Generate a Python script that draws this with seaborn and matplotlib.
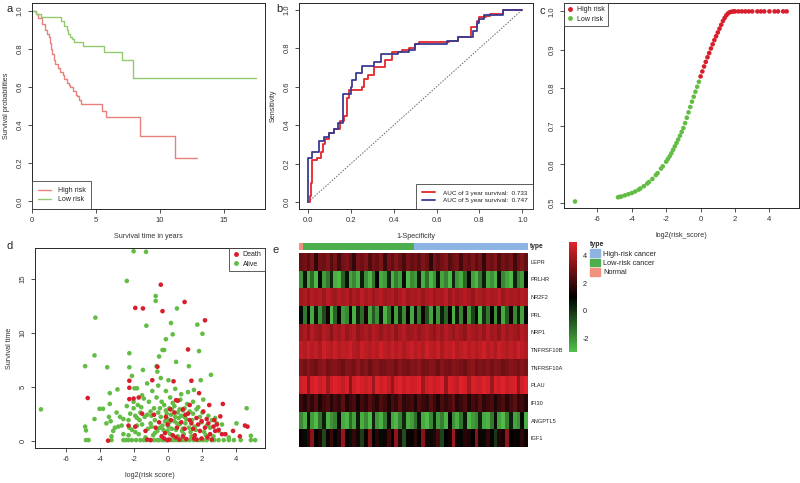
import matplotlib
matplotlib.use("Agg")
from matplotlib import pyplot as plt
from matplotlib.colors import LinearSegmentedColormap, ListedColormap
from matplotlib.patches import Patch
import numpy as np
import pandas as pd
import seaborn as sns

sns.set_style("ticks")
plt.rcParams['font.family'] = ['Liberation Sans', 'DejaVu Sans']
plt.rcParams['font.size'] = 5
plt.rcParams['axes.unicode_minus'] = False
plt.rcParams['axes.linewidth'] = 0.7
plt.rcParams['xtick.major.width'] = 0.6
plt.rcParams['ytick.major.width'] = 0.6
plt.rcParams['xtick.major.size'] = 3
plt.rcParams['ytick.major.size'] = 3

# ---- a: Kaplan-Meier ----
km_high_t = [0, 0.3, 0.5, 0.8, 1.0, 1.2, 1.3, 1.4, 1.5, 1.6, 1.7, 1.8, 2.0, 2.2, 2.4, 2.5, 2.7, 2.9, 3.0, 3.2, 3.4, 3.5, 3.7, 3.8, 5.5, 5.8, 8.4, 11.2, 12.9]
km_high_s = [1.0, 0.98, 0.96, 0.93, 0.90, 0.88, 0.86, 0.83, 0.80, 0.77, 0.74, 0.72, 0.70, 0.68, 0.66, 0.64, 0.62, 0.61, 0.60, 0.58, 0.56, 0.55, 0.53, 0.51, 0.475, 0.44, 0.343, 0.228, 0.228]
km_low_t = [0, 0.3, 0.7, 2.3, 2.5, 2.7, 2.8, 3.0, 3.1, 3.3, 4.0, 5.6, 7.0, 7.9, 17.5]
km_low_s = [1.0, 0.98, 0.965, 0.944, 0.92, 0.90, 0.88, 0.86, 0.85, 0.835, 0.817, 0.783, 0.739, 0.647, 0.647]

# ---- b: time dependent ROC ----
roc3_fpr = [0, 0.01, 0.015, 0.02, 0.04, 0.06, 0.07, 0.08, 0.10, 0.12, 0.15, 0.17, 0.18, 0.19, 0.25, 0.26, 0.28, 0.31, 0.36, 0.39, 0.44, 0.47, 0.50, 0.52, 0.66, 0.70, 0.76, 0.79, 0.80, 0.83, 0.85, 0.91, 1.0]
roc3_tpr = [0, 0.03, 0.10, 0.22, 0.23, 0.26, 0.30, 0.33, 0.36, 0.38, 0.42, 0.45, 0.54, 0.585, 0.60, 0.64, 0.66, 0.70, 0.74, 0.78, 0.79, 0.80, 0.82, 0.83, 0.84, 0.86, 0.91, 0.94, 0.96, 0.97, 0.98, 1.0, 1.0]
roc5_fpr = [0, 0, 0.02, 0.05, 0.075, 0.10, 0.12, 0.14, 0.165, 0.20, 0.205, 0.225, 0.25, 0.31, 0.34, 0.42, 0.47, 0.50, 0.65, 0.68, 0.70, 0.77, 0.79, 0.80, 0.82, 0.91, 1.0]
roc5_tpr = [0, 0.23, 0.26, 0.32, 0.34, 0.36, 0.38, 0.41, 0.56, 0.60, 0.635, 0.67, 0.71, 0.73, 0.77, 0.78, 0.79, 0.82, 0.835, 0.84, 0.86, 0.89, 0.93, 0.95, 0.975, 1.0, 1.0]
auc3 = 0.733
auc5 = 0.747

# ---- c: risk score vs survival probability ----
c_low_x = [-7.3, -4.8, -4.7, -4.6, -4.4, -4.2, -4.0, -3.8, -3.6, -3.5, -3.3, -3.1, -3.0, -2.8, -2.6, -2.5, -2.3, -2.2, -2.0, -1.9, -1.8, -1.7, -1.6, -1.5, -1.4, -1.3, -1.2, -1.1, -1.0, -0.9, -0.8, -0.7, -0.6, -0.5, -0.4, -0.3, -0.2, -0.1]
c_low_y = [0.503, 0.514, 0.515, 0.516, 0.519, 0.522, 0.525, 0.529, 0.534, 0.537, 0.543, 0.550, 0.554, 0.562, 0.572, 0.577, 0.589, 0.595, 0.607, 0.614, 0.621, 0.629, 0.638, 0.647, 0.656, 0.665, 0.675, 0.685, 0.695, 0.708, 0.722, 0.736, 0.750, 0.764, 0.777, 0.790, 0.803, 0.816]
c_high_x = [0.0, 0.1, 0.2, 0.3, 0.4, 0.5, 0.6, 0.7, 0.8, 0.9, 1.0, 1.1, 1.2, 1.3, 1.4, 1.5, 1.6, 1.7, 1.8, 1.9, 2.0, 2.2, 2.4, 2.6, 2.8, 3.0, 3.3, 3.5, 3.7, 4.0, 4.3, 4.5, 4.8, 5.0]
c_high_y = [0.830, 0.843, 0.856, 0.868, 0.880, 0.891, 0.903, 0.914, 0.925, 0.935, 0.945, 0.955, 0.965, 0.975, 0.983, 0.990, 0.995, 0.998, 0.999, 1.0, 1.0, 1.0, 1.0, 1.0, 1.0, 1.0, 1.0, 1.0, 1.0, 1.0, 1.0, 1.0, 1.0, 1.0]

# ---- d: risk score vs survival time ----
death_pts = [(-4.7, 3.95), (-3.5, 0.0), (-2.25, 5.55), (-2.25, 4.9), (-2.25, 3.85), (-2.0, 3.9), (-1.9, 12.3), (-1.45, 12.25),
             (-1.9, 1.3), (-1.5, 2.5), (-1.2, 0.1), (-0.9, 5.6), (-0.6, 6.85), (-0.7, 1.2), (-0.4, 14.45), (-0.3, 12.0),
             (-0.35, 0.4), (-0.2, 0.2), (-0.1, 2.2), (0.0, 1.5), (0.1, 0.1), (0.2, 1.9), (0.35, 5.5), (0.3, 0.5), (0.5, 3.75),
             (0.6, 3.7), (0.7, 0.1), (0.8, 1.7), (0.9, 2.9), (1.0, 12.85), (1.0, 1.1), (1.2, 8.45), (1.2, 2.5), (1.3, 3.3),
             (1.4, 5.55), (1.4, 1.6), (1.5, 1.1), (1.6, 0.5), (1.7, 2.1), (1.8, 1.5), (1.85, 4.4), (1.9, 0.9), (2.0, 1.8),
             (2.1, 2.7), (2.2, 11.15), (2.2, 1.2), (2.3, 2.0), (2.45, 3.3), (2.5, 0.6), (2.7, 1.3), (2.8, 0.9), (2.9, 1.5),
             (3.1, 2.25), (3.25, 3.4), (3.2, 0.6), (3.4, 0.6), (3.85, 0.9), (4.25, 0.4), (4.55, 1.4), (4.7, 1.3), (0.5, 0.3),
             (-0.5, 1.7), (1.1, 0.15), (2.6, 0.1), (-1.0, 0.05), (0.0, 0.05), (-2.3, 1.4), (-1.7, 4.0), (0.4, 2.6), (1.7, 0.1),
             (-1.3, 0.9), (-0.8, 2.4), (0.15, 2.9), (0.55, 1.2), (1.05, 2.4), (1.55, 0.2), (2.35, 0.3), (2.0, 0.2),
             (2.75, 1.9), (3.0, 1.0), (-0.15, 0.7), (0.9, 0.4), (1.3, 1.9), (2.4, 1.6)]
alive_base_x = [-4.8, -4.65, -3.3, -2.6, -2.45, -2.3, -2.1, -1.85, -1.6, -1.4, -1.25, -1.0, -0.8, -0.6, -0.5, -0.3, -0.15,
                0.0, 0.2, 0.35, 0.5, 0.65, 0.8, 0.95, 1.1, 1.3, 1.55, 1.75, 1.9, 2.1, 2.3, 2.6, 2.75, 3.0, 3.3, 3.6, 3.9,
                4.3, 4.9, 5.15]
alive_pts = [(-7.45, 2.9), (-4.85, 6.9), (-4.3, 7.9), (-4.25, 11.4), (-4.85, 1.3), (-4.8, 0.95), (-4.3, 2.0), (-4.0, 2.95),
             (-3.8, 2.95), (-3.55, 6.8), (-3.4, 4.4), (-3.4, 3.4), (-3.35, 1.8), (-3.45, 2.2), (-3.3, 0.4), (-3.1, 1.2),
             (-2.95, 4.75), (-2.9, 1.3), (-2.4, 14.8), (-2.25, 8.1), (-2.25, 6.8), (-2.3, 1.9), (-2.25, 1.2), (-2.3, 0.5),
             (-2.0, 17.55), (-2.0, 3.0), (-2.0, 3.6), (-1.95, 4.85), (-1.8, 4.85), (-1.9, 2.3), (-1.8, 1.4), (-1.7, 0.6),
             (-1.6, 2.6), (-1.5, 4.2), (-1.5, 1.5), (-1.45, 6.55), (-1.4, 3.9), (-1.27, 17.5), (-1.25, 10.65), (-1.2, 2.4),
             (-1.1, 3.6), (-1.0, 1.6), (-1.0, 2.7), (-0.9, 4.6), (-0.85, 0.5), (-0.8, 3.0), (-0.75, 1.9), (-0.7, 13.4),
             (-0.7, 12.95), (-0.65, 6.9), (-0.6, 6.4), (-0.55, 5.1), (-0.5, 7.8), (-0.4, 5.8), (-0.4, 2.2), (-0.3, 8.4),
             (-0.3, 1.4), (-0.2, 8.4), (-0.2, 3.3), (-0.1, 9.4), (-0.1, 4.6), (-0.1, 2.8), (0.0, 2.0), (0.0, 0.9),
             (0.05, 5.6), (0.1, 3.0), (0.1, 1.7), (0.2, 10.9), (0.2, 2.4), (0.25, 1.1), (0.3, 9.85), (0.3, 3.5), (0.4, 1.8),
             (0.45, 2.2), (0.5, 7.3), (0.5, 1.0), (0.55, 12.25), (0.6, 2.6), (0.7, 1.5), (0.75, 3.8), (0.8, 2.3), (0.9, 1.1),
             (0.95, 0.6), (1.0, 3.0), (1.1, 2.0), (1.2, 4.5), (1.25, 1.2), (1.3, 2.7), (1.45, 1.9), (1.55, 4.7), (1.6, 1.3),
             (1.7, 2.9), (1.75, 10.75), (1.85, 8.3), (1.9, 2.2), (1.95, 5.6), (2.05, 9.9), (2.1, 3.8), (2.15, 0.8), (2.3, 1.4),
             (2.4, 2.3), (2.55, 6.1), (2.6, 1.9), (2.7, 0.4), (2.9, 1.6), (3.0, 0.9), (3.2, 1.5), (3.6, 0.3), (4.05, 1.6),
             (4.65, 3.0), (4.9, 0.45), (-2.6, 0.6), (-2.7, 1.4), (-1.3, 0.3), (-0.6, 0.9), (0.6, 0.4), (1.4, 0.4), (-3.0, 2.6),
             (-2.2, 2.5), (-1.55, 3.1), (-0.25, 1.0), (0.35, 0.4), (0.9, 2.8), (1.5, 3.6), (2.0, 1.7), (-0.95, 1.3),
             (-1.8, 2.1), (0.15, 4.0), (-0.45, 3.0), (0.65, 2.1), (1.05, 1.6), (-2.6, 2.0),
             (-2.4, 3.2), (-2.1, 1.0), (-1.9, 0.8), (-1.65, 1.9), (-1.35, 2.2), (-1.15, 1.1), (-0.95, 2.3), (-0.75, 0.7),
             (-0.55, 2.6), (-0.45, 1.2), (-0.35, 3.6), (-0.15, 1.8), (-0.05, 2.5), (0.05, 1.3), (0.15, 0.6), (0.25, 2.9),
             (0.4, 3.2), (0.55, 1.6), (0.7, 2.9), (0.85, 0.9), (1.0, 2.2), (1.15, 3.4), (1.35, 0.8), (1.5, 2.5), (1.65, 1.0),
             (1.8, 3.1), (2.05, 2.6), (2.25, 0.5), (2.5, 1.2), (2.8, 2.1), (-3.2, 0.9), (-2.8, 2.2), (-3.6, 1.6), (-1.75, 3.3),
             (-0.65, 4.0), (0.8, 4.3), (-1.2, 5.3), (-2.1, 6.0), (0.45, 4.8), (1.25, 6.9)]

# ---- e: expression heatmap ----
genes = ["LEPR", "PRLHR", "NR2F2", "PRL", "NRP1", "TNFRSF10B", "TNFRSF10A", "PLAU", "IFI30", "ANGPTL5", "IGF1"]
n_normal, n_low, n_high = 1, 29, 30
expr_LEPR = [2.8, 3.0, 2.6, 3.2, 1.8, 3.0, 2.9, 3.3, 2.5, 3.1, 2.2, 3.0, 3.2, 2.7, 1.9, 3.1, 2.9, 3.3, 2.4, 3.0,
             2.8, 3.2, 2.0, 3.0, 2.7, 3.3, 2.9, 2.3, 3.1, 2.8, 3.0, 2.6, 3.2, 2.9, 1.8, 3.1, 2.7, 3.0, 3.3, 2.5,
             2.9, 3.1, 2.2, 3.0, 2.8, 3.2, 2.6, 3.0, 1.9, 3.1, 2.9, 3.3, 2.4, 3.0, 2.8, 3.1, 2.1, 2.9, 3.2, 2.7]
expr_PRLHR = [-2.0, 0.5, -2.5, -1.2, -2.8, 0.8, -2.2, -1.5, 0.2, -2.6, -2.9, -1.0, 0.6, -2.4, -1.8, -2.7, 0.4, -2.0, -2.8, -1.4,
              0.9, -2.5, -2.1, 0.3, -2.7, -1.6, -2.3, 0.7, -2.9, -1.9, -2.2, 0.5, -2.6, -1.3, -2.8, -2.0, 0.6, -2.4, -1.7, -2.9,
              0.2, -2.1, -2.6, -1.1, 0.8, -2.3, -2.8, -1.5, 0.4, -2.5, -2.0, -2.7, 0.7, -1.8, -2.4, -2.9, 0.3, -1.6, -2.2, 0.9]
expr_NR2F2 = [3.8, 4.0, 3.6, 4.2, 3.9, 4.1, 3.7, 4.3, 4.0, 3.8, 4.1, 3.9, 4.2, 3.6, 4.0, 3.8, 4.3, 3.9, 4.1, 3.7,
              4.0, 4.2, 3.8, 3.9, 4.1, 3.6, 4.0, 4.3, 3.8, 4.0, 3.9, 4.1, 3.7, 4.0, 4.2, 3.8, 4.0, 3.9, 4.3, 3.7,
              4.1, 3.8, 4.0, 4.2, 3.9, 3.6, 4.1, 4.0, 3.8, 4.2, 3.9, 4.0, 4.3, 3.7, 4.1, 3.9, 4.0, 3.8, 4.2, 4.0]
expr_PRL = [0.8, -1.5, 1.2, -2.5, 0.5, -2.0, -0.5, 1.3, -2.8, -1.0, 0.9, -2.2, -1.8, 1.0, -2.6, 0.3, -1.2, 1.4, -2.4, -0.8,
            -2.0, 0.6, -2.7, -1.4, 1.1, -2.3, 0.2, -1.9, 1.2, -2.5, 0.7, -1.6, 1.3, -0.6, -2.4, 0.9, -2.1, 0.4, -1.1, 1.0,
            -2.6, 0.5, -1.7, 1.2, -2.2, -0.4, 0.8, -2.8, 0.1, -1.5, 1.1, -2.0, 0.6, -2.5, -0.9, 1.3, -1.8, 0.3, -2.3, 0.8]
expr_NRP1 = [3.7, 4.0, 3.5, 4.2, 3.8, 3.6, 4.1, 3.9, 3.4, 4.0, 3.8, 4.2, 3.6, 3.9, 4.1, 3.5, 3.8, 4.0, 3.7, 4.2,
             3.9, 3.6, 4.0, 3.8, 4.1, 3.5, 3.9, 4.2, 3.7, 3.8, 4.0, 3.6, 3.9, 4.1, 3.8, 3.5, 4.0, 3.7, 4.2, 3.9,
             3.6, 4.0, 3.8, 3.5, 4.1, 3.9, 3.7, 4.0, 3.6, 4.2, 3.8, 3.9, 3.5, 4.1, 3.7, 4.0, 3.8, 3.6, 4.2, 3.9]
expr_TNFRSF10B = [4.3, 4.1, 4.5, 4.2, 4.4, 4.0, 4.6, 4.3, 4.2, 4.5, 4.1, 4.4, 4.3, 4.6, 4.2, 4.0, 4.5, 4.3, 4.1, 4.4,
                  4.2, 4.6, 4.3, 4.1, 4.5, 4.2, 4.4, 4.0, 4.3, 4.5, 4.2, 4.4, 4.1, 4.6, 4.3, 4.2, 4.5, 4.0, 4.4, 4.3,
                  4.6, 4.1, 4.3, 4.5, 4.2, 4.4, 4.1, 4.3, 4.6, 4.2, 4.4, 4.0, 4.5, 4.3, 4.1, 4.4, 4.2, 4.6, 4.3, 4.1]
expr_TNFRSF10A = [3.2, 3.0, 3.4, 3.1, 2.9, 3.3, 3.5, 3.0, 3.2, 3.4, 3.1, 2.9, 3.3, 3.2, 3.0, 3.5, 3.1, 3.3, 2.9, 3.2,
                  3.4, 3.0, 3.1, 3.3, 3.2, 2.9, 3.4, 3.1, 3.0, 3.3, 3.2, 3.5, 3.0, 3.1, 3.4, 3.2, 2.9, 3.3, 3.1, 3.0,
                  3.4, 3.2, 3.1, 2.9, 3.3, 3.5, 3.0, 3.2, 3.1, 3.4, 3.0, 3.3, 3.2, 2.9, 3.1, 3.4, 3.2, 3.0, 3.3, 3.1]
expr_PLAU = [4.6, 4.8, 3.6, 4.7, 4.9, 4.5, 4.8, 3.8, 4.6, 4.9, 4.7, 4.4, 4.8, 3.5, 4.6, 4.9, 4.7, 4.5, 4.8, 3.7,
             4.9, 4.6, 4.8, 4.4, 3.6, 4.7, 4.9, 4.5, 4.8, 4.6, 4.7, 4.9, 3.8, 4.6, 4.8, 4.5, 4.7, 4.9, 3.6, 4.8,
             4.6, 4.4, 4.9, 4.7, 3.9, 4.8, 4.6, 4.5, 4.9, 4.7, 3.7, 4.8, 4.6, 4.9, 4.5, 4.7, 4.8, 3.6, 4.6, 4.9]
expr_IFI30 = [2.0, 1.6, 2.3, 1.8, 2.5, 1.5, 2.1, 2.4, 1.7, 2.2, 1.9, 2.6, 1.6, 2.0, 2.3, 1.4, 2.2, 1.8, 2.5, 2.0,
              1.7, 2.4, 2.1, 1.5, 2.3, 1.9, 2.6, 1.8, 2.0, 2.2, 1.6, 2.4, 2.0, 1.8, 2.5, 2.1, 1.5, 2.3, 1.9, 2.2,
              2.6, 1.7, 2.0, 2.4, 1.6, 2.2, 1.9, 2.5, 1.8, 2.1, 2.3, 1.5, 2.0, 2.4, 1.7, 2.2, 2.6, 1.9, 2.1, 1.6]
expr_ANGPTL5 = [-1.8, -2.6, 0.6, -2.2, -2.9, -1.4, 0.4, -2.7, -2.0, -1.6, 0.8, -2.5, -2.8, -1.2, -2.3, 0.5, -2.6, -1.9, -2.9, 0.3,
                -2.1, -2.7, -1.5, 0.7, -2.4, -2.8, -1.7, 0.2, -2.6, -2.2, -1.3, 0.6, -2.5, -2.9, -1.8, 0.4, -2.3, -1.6, -2.7, 0.9,
                -2.0, -2.6, -1.4, 0.5, -2.8, -2.2, -1.9, 0.3, -2.5, -2.7, -1.5, 0.7, -2.3, -2.9, -1.7, 0.4, -2.4, -2.0, 0.8, -2.6]
expr_IGF1 = [1.2, 0.8, 1.8, 3.4, 1.0, 1.5, -0.5, 1.3, 2.0, 0.9, 1.6, 3.6, 1.1, 0.7, 1.9, 1.4, -0.3, 1.2, 3.2, 1.0,
             1.7, 0.8, 1.3, 2.1, 1.0, 3.5, 1.5, -0.6, 1.2, 0.9, 1.8, 1.1, 3.3, 1.4, 0.8, 1.6, 2.2, -0.4, 1.0, 1.3,
             3.7, 1.2, 0.9, 1.7, 1.5, 1.0, 3.4, 1.3, 0.8, 1.9, 1.1, -0.2, 1.6, 1.4, 3.5, 1.0, 1.2, 0.9, 1.8, 1.3]
type_names = ["High-risk cancer", "Low-risk cancer", "Normal"]
type_colors = ["#8db4e2", "#4cae4c", "#f2917f"]

RED = "#d81e2c"
GREEN = "#63bd45"
TXT = "#333333"

fig = plt.figure(figsize=(8, 4.83), dpi=100)


def r_axes(ax):
    for lab in ax.get_yticklabels():
        lab.set_rotation(90)
        lab.set_va("center")
    ax.tick_params(labelsize=5.5, pad=3, colors=TXT, labelcolor=TXT)
    ax.xaxis.label.set_color(TXT)
    ax.yaxis.label.set_color(TXT)


def r_legend(ax, handles, labels, loc, **kw):
    opts = dict(frameon=True, fancybox=False, borderaxespad=0, fontsize=5, handlelength=1.9,
                borderpad=0.8, labelspacing=0.35, handletextpad=1.0)
    opts.update(kw)
    leg = ax.legend(handles, labels, loc=loc, **opts)
    leg.get_frame().set_edgecolor(TXT)
    leg.get_frame().set_linewidth(0.7)
    for t in leg.get_texts():
        t.set_color("#222222")
    return leg


# ---------- a ----------
ax_a = fig.add_axes([0.04, 0.5673, 0.29125, 0.4265])
km = pd.concat([
    pd.DataFrame({"time": km_high_t, "surv": km_high_s, "group": "High risk"}),
    pd.DataFrame({"time": km_low_t, "surv": km_low_s, "group": "Low risk"}),
])
sns.lineplot(data=km, x="time", y="surv", hue="group", palette=["#e8807c", "#93c96f"],
             drawstyle="steps-post", estimator=None, sort=False, linewidth=1.0, legend=False, ax=ax_a)
ax_a.set_xlim(0, 18.2)
ax_a.set_ylim(-0.04, 1.04)
ax_a.set_xticks([0, 5, 10, 15])
ax_a.set_yticks([0, 0.2, 0.4, 0.6, 0.8, 1.0])
ax_a.set_yticklabels(["0.0", "0.2", "0.4", "0.6", "0.8", "1.0"])
ax_a.set_xlabel("Survival time in years", fontsize=5.2, labelpad=6)
ax_a.set_ylabel("Survival probabilities", fontsize=5.2, labelpad=5)
r_axes(ax_a)
r_legend(ax_a, [plt.Line2D([], [], color="#e8807c", lw=1.0), plt.Line2D([], [], color="#93c96f", lw=1.0)],
         ["High risk", "Low risk"], "lower left")

# ---------- b ----------
ax_b = fig.add_axes([0.37375, 0.5673, 0.2925, 0.4265])
roc = pd.concat([
    pd.DataFrame({"fpr": roc3_fpr, "tpr": roc3_tpr, "curve": "3y"}),
    pd.DataFrame({"fpr": roc5_fpr, "tpr": roc5_tpr, "curve": "5y"}),
])
ax_b.plot([0, 1], [0, 1], ls=(0, (1.5, 1.5)), color="#666666", lw=0.7)
sns.lineplot(data=roc, x="fpr", y="tpr", hue="curve", palette=["#e3262b", "#3a3c93"],
             drawstyle="steps-post", estimator=None, sort=False, linewidth=1.3, legend=False, ax=ax_b)
ax_b.set_xlim(-0.042, 1.05)
ax_b.set_ylim(-0.035, 1.035)
ax_b.set_xticks([0, 0.2, 0.4, 0.6, 0.8, 1.0])
ax_b.set_xticklabels(["0.0", "0.2", "0.4", "0.6", "0.8", "1.0"])
ax_b.set_yticks([0, 0.2, 0.4, 0.6, 0.8, 1.0])
ax_b.set_yticklabels(["0.0", "0.2", "0.4", "0.6", "0.8", "1.0"])
ax_b.set_xlabel("1-Specificity", fontsize=5.2, labelpad=6)
ax_b.set_ylabel("Sensitivity", fontsize=5.2, labelpad=5)
r_axes(ax_b)
r_legend(ax_b, [plt.Line2D([], [], color="#e3262b", lw=1.3), plt.Line2D([], [], color="#3a3c93", lw=1.3)],
         [f"AUC of 3 year survival:  {auc3}", f"AUC of 5 year survival:  {auc5}"], "lower right",
         fontsize=4.6, handlelength=2.0, borderpad=0.9, handletextpad=1.2)

# ---------- c ----------
ax_c = fig.add_axes([0.705, 0.5694, 0.29375, 0.4244])
risk = pd.concat([
    pd.DataFrame({"score": c_high_x, "prob": c_high_y, "risk": "High risk"}),
    pd.DataFrame({"score": c_low_x, "prob": c_low_y, "risk": "Low risk"}),
])
sns.scatterplot(data=risk, x="score", y="prob", hue="risk", palette=[RED, GREEN],
                s=11, linewidth=0, legend=False, ax=ax_c)
ax_c.set_xlim(-7.94, 5.72)
ax_c.set_ylim(0.486, 1.022)
ax_c.set_xticks([-6, -4, -2, 0, 2, 4])
ax_c.set_yticks([0.5, 0.6, 0.7, 0.8, 0.9, 1.0])
ax_c.set_xlabel("log2(risk_score)", fontsize=5.2, labelpad=6)
ax_c.set_ylabel("")
r_axes(ax_c)
r_legend(ax_c, [plt.Line2D([], [], ls="", marker="o", ms=2.5, color=RED),
                plt.Line2D([], [], ls="", marker="o", ms=2.5, color=GREEN)],
         ["High risk", "Low risk"], "upper left", handlelength=0.8, handletextpad=0.6,
         borderpad=0.5, labelspacing=0.3)

# ---------- d ----------
ax_d = fig.add_axes([0.04375, 0.0725, 0.2875, 0.414])
dd = pd.concat([
    pd.DataFrame({"score": [p[0] for p in alive_pts] + alive_base_x,
                  "time": [p[1] for p in alive_pts] + [0.05] * len(alive_base_x), "status": "Alive"}),
    pd.DataFrame({"score": [p[0] for p in death_pts], "time": [p[1] for p in death_pts], "status": "Death"}),
])
sns.scatterplot(data=dd, x="score", y="time", hue="status", palette={"Alive": GREEN, "Death": RED},
                s=11, linewidth=0, legend=False, ax=ax_d)
ax_d.set_xlim(-7.8, 5.73)
ax_d.set_ylim(-0.68, 17.85)
ax_d.set_xticks([-6, -4, -2, 0, 2, 4])
ax_d.set_yticks([0, 5, 10, 15])
ax_d.set_xlabel("log2(risk score)", fontsize=5.2, labelpad=6)
ax_d.set_ylabel("Survival time", fontsize=5.2, labelpad=5)
r_axes(ax_d)
r_legend(ax_d, [plt.Line2D([], [], ls="", marker="o", ms=2.5, color=RED),
                plt.Line2D([], [], ls="", marker="o", ms=2.5, color=GREEN)],
         ["Death", "Alive"], "upper right", handlelength=0.8, handletextpad=0.6,
         borderpad=0.5, labelspacing=0.3)

# ---------- e ----------
expr = pd.DataFrame([expr_LEPR, expr_PRLHR, expr_NR2F2, expr_PRL, expr_NRP1, expr_TNFRSF10B,
                     expr_TNFRSF10A, expr_PLAU, expr_IFI30, expr_ANGPTL5, expr_IGF1], index=genes)
sample_type = ["Normal"] * n_normal + ["Low-risk cancer"] * n_low + ["High-risk cancer"] * n_high
type_code = pd.DataFrame([[type_names.index(t) for t in sample_type]], index=["type"])

gcmap = LinearSegmentedColormap.from_list("gbr", ["#52c04a", "#000000", "#e3222b"])
ax_e = fig.add_axes([0.37375, 0.0745, 0.28625, 0.4017])
ax_t = fig.add_axes([0.37375, 0.4824, 0.28625, 0.0145])
cax = fig.add_axes([0.711, 0.2712, 0.0105, 0.2277])
sns.heatmap(expr, cmap=gcmap, vmin=-3, vmax=5, center=None, ax=ax_e, cbar_ax=cax,
            xticklabels=False, yticklabels=True)
ax_e.yaxis.tick_right()
ax_e.tick_params(axis="y", length=0, pad=2, labelsize=4.1, labelcolor="#222222")
for lab in ax_e.get_yticklabels():
    lab.set_rotation(0)
ax_e.set_ylabel("")
cax.tick_params(length=0, labelsize=5.2, pad=4, labelcolor="#222222")
cax.set_yticks([-2, 0, 2, 4])
sns.heatmap(type_code, cmap=ListedColormap(type_colors), vmin=-0.5, vmax=2.5, cbar=False, ax=ax_t,
            xticklabels=False, yticklabels=False)
ax_t.text(1.01, 0.5, "type", transform=ax_t.transAxes, fontsize=4.8, fontweight="bold", va="center")

leg = fig.legend([Patch(color=c) for c in type_colors], type_names, loc="upper left",
                 bbox_to_anchor=(0.7375, 0.5), frameon=False, fontsize=5.3, title="type",
                 title_fontproperties={"weight": "bold", "size": 5}, handlelength=1.35, handleheight=1.25,
                 handletextpad=0.4, labelspacing=0.12, borderaxespad=0, borderpad=0)
leg._legend_box.align = "left"

# panel letters
for x, y, s in [(0.008, 0.982, "a"), (0.345, 0.982, "b"), (0.675, 0.978, "c"), (0.008, 0.49, "d"), (0.341, 0.483, "e")]:
    fig.text(x, y, s, fontsize=8, va="center", ha="left")

fig.savefig("out.png", dpi=100)
